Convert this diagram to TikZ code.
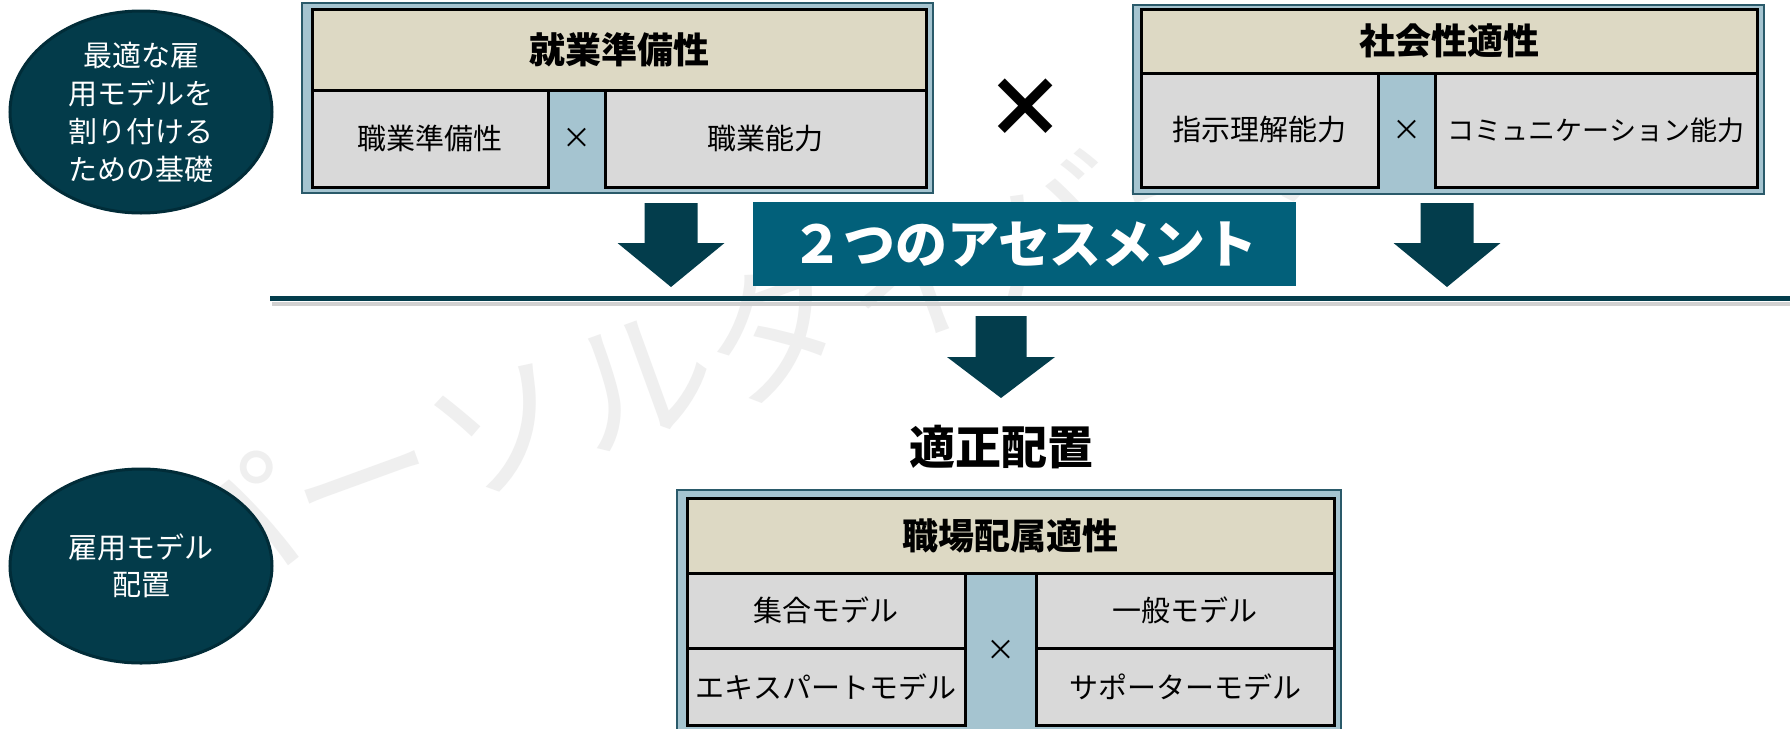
\documentclass[tikz,border=0pt]{standalone}
\usepackage{fontspec}
\setmainfont{Noto Sans CJK JP}
\usetikzlibrary{shapes.geometric}
\definecolor{ovalc}{HTML}{033B4A}
\definecolor{ovalb}{HTML}{012C38}
\definecolor{arrowc}{HTML}{033D4C}
\definecolor{tealc}{HTML}{02607A}
\definecolor{beigec}{HTML}{DDD9C4}
\definecolor{cellc}{HTML}{D9D9D9}
\definecolor{lbc}{HTML}{A5C4D0}
\definecolor{framec}{HTML}{2A5A6A}
\definecolor{wmc}{HTML}{EFEFEF}
\begin{document}
\begin{tikzpicture}[x=1pt,y=-1pt,
  framebox/.style={draw=framec, fill=lbc, line width=2.5, inner sep=0, outer sep=0},
  hdrbox/.style={draw=black, fill=beigec, line width=3, inner sep=0, outer sep=0,
    font=\fontsize{36}{43}\selectfont\bfseries},
  cellbox/.style={draw=black, fill=cellc, line width=3, inner sep=0, outer sep=0,
    font=\fontsize{29}{35}\selectfont},
  timesmark/.style={inner sep=0, font=\fontsize{29}{35}\selectfont},
  oval/.style={ellipse, draw=ovalb, fill=ovalc, line width=3, text=white, align=center,
    inner sep=0, font=\fontsize{29}{38}\selectfont},
  blockarrow/.pic={\fill[arrowc] (-26.5,0) -- (26.5,0) -- (26.5,40) -- (53.5,40) -- (0,84)
    -- (-53.5,40) -- (-26.5,40) -- cycle;}
]
\useasboundingbox (0,0) rectangle (1790,728);
\clip (0,0) rectangle (1790,728);
\fill[white] (0,0) rectangle (1790,728);

% watermark
\node[rotate=20, text=wmc, inner sep=0, font=\fontsize{147}{150}\selectfont] (wm) at (772,328) {パーソルダイバース};

% ellipses
\node[oval, minimum width=262, minimum height=202] (o1) at (141,112) {最適な雇\\用モデルを\\割り付ける\\ための基礎};
\node[oval, minimum width=262, minimum height=194, font=\fontsize{29}{37}\selectfont] (o2) at (141,566) {雇用モデル\\配置};

% box 1
\node[framebox, minimum width=631, minimum height=190] (fA) at (617.5,98) {};
\node[hdrbox, minimum width=614, minimum height=81] (hA) at (619,49.5) {就業準備性};
\node[cellbox, minimum width=236, minimum height=97] (cA1) at (430,138.5) {職業準備性};
\node[cellbox, minimum width=321, minimum height=97] (cA2) at (765.5,138.5) {職業能力};
\node[timesmark] (xA) at (576.5,138.5) {×};

% box 2
\node[framebox, minimum width=631, minimum height=189] (fB) at (1448.5,99.5) {};
\node[hdrbox, minimum width=616, minimum height=64] (hB) at (1449,41) {社会性適性};
\node[cellbox, minimum width=237, minimum height=114] (cB1) at (1259.5,130) {指示理解能力};
\node[cellbox, minimum width=322, minimum height=114, font=\fontsize{27}{33}\selectfont] (cB2) at (1596,130) {コミュニケーション能力};
\node[timesmark] (xB) at (1406.5,130) {×};

% big times
\node[inner sep=0, font=\fontsize{82}{86}\selectfont\bfseries] (bigx) at (1025,108) {×};

% arrows
\pic at (671,203) {blockarrow};
\pic at (1447,203) {blockarrow};
\fill[arrowc] (975.5,316) -- (1026.5,316) -- (1026.5,357) -- (1055,357) -- (1001,398)
  -- (947,357) -- (975.5,357) -- cycle;

% assessment box
\node[fill=tealc, minimum width=543, minimum height=84, inner sep=0, text=white,
  font=\fontsize{52}{56}\selectfont\bfseries] (assess) at (1024.5,244) {２つのアセスメント};

% horizontal line
\draw[line width=4, black!18] (272,304) -- (1790,304);
\draw[line width=5, arrowc] (270,298.5) -- (1790,298.5);

% title
\node[inner sep=0, font=\fontsize{46}{50}\selectfont\bfseries] (title) at (1001,447) {適正配置};

% box 3
\node[framebox, minimum width=664, minimum height=260] (fC) at (1009,620) {};
\node[hdrbox, minimum width=647, minimum height=75] (hC) at (1010.5,535.5) {職場配属適性};
\node[cellbox, minimum width=278, minimum height=75] (cC1) at (826,610.5) {集合モデル};
\node[cellbox, minimum width=278, minimum height=77] (cC2) at (826,686.5) {エキスパートモデル};
\node[cellbox, minimum width=298, minimum height=75] (cC3) at (1185,610.5) {一般モデル};
\node[cellbox, minimum width=298, minimum height=77] (cC4) at (1185,686.5) {サポーターモデル};
\node[timesmark] (xC) at (1000.5,650) {×};
\end{tikzpicture}
\end{document}
